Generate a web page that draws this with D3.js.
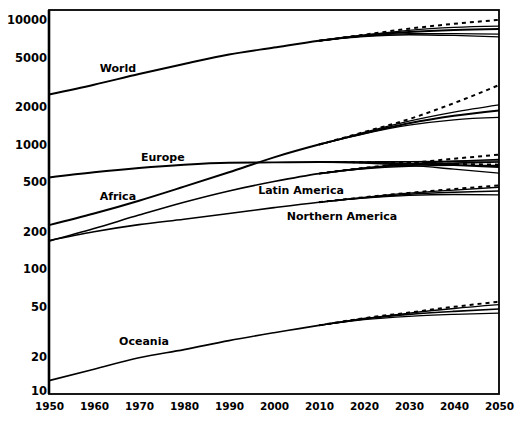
<!DOCTYPE html>
<html>
<head>
<meta charset="utf-8">
<script src="https://cdn.jsdelivr.net/npm/d3@7"></script>
<style>
  body { margin: 0; background: #fff; }
  svg { display: block; }
  text { font-family: "DejaVu Sans", sans-serif; font-weight: bold; fill: #000; }
</style>
</head>
<body>
<div id="chart"></div>
<script>
let years = [1950, 1960, 1970, 1980, 1990, 2000, 2010, 2020, 2030, 2040, 2050];

// medium estimates, millions
let world = [2520, 3020, 3680, 4430, 5280, 6000, 6800, 7500, 8000, 8300, 8450];
let africa = [226, 280, 355, 460, 600, 790, 1000, 1230, 1480, 1700, 1880];
let europe = [545, 600, 650, 690, 715, 720, 725, 720, 705, 685, 660];
let latinAmerica = [168, 212, 272, 345, 425, 505, 585, 645, 685, 710, 725];
let northernAmerica = [170, 200, 228, 252, 280, 312, 345, 375, 400, 415, 425];
let oceania = [12.8, 15.8, 19.5, 22.7, 26.8, 31, 35.5, 40, 43.5, 46, 48];

// projection variants
let projYears = [2010, 2020, 2030, 2040, 2050];
let worldConst = [6800, 7600, 8500, 9300, 10000];
let worldHigh = [6800, 7550, 8250, 8700, 8900];
let worldLow = [6800, 7400, 7750, 7750, 7700];
let worldLowest = [6800, 7350, 7600, 7500, 7300];
let africaConst = [1000, 1260, 1600, 2150, 3000];
let africaHigh = [1000, 1250, 1540, 1820, 2080];
let africaLow = [1000, 1220, 1430, 1580, 1650];
let europeConst = [725, 722, 712, 700, 690];
let europeHigh = [725, 728, 730, 735, 740];
let europeLow = [725, 712, 680, 635, 590];
let latinConst = [585, 650, 710, 770, 830];
let latinHigh = [585, 650, 700, 735, 760];
let latinLow = [585, 640, 670, 680, 680];
let namConst = [345, 378, 410, 440, 470];
let namHigh = [345, 378, 408, 432, 455];
let namLow = [345, 372, 392, 398, 395];
let oceConst = [35.5, 40.5, 45, 50, 55];
let oceHigh = [35.5, 40.3, 44.5, 48.5, 52];
let oceLow = [35.5, 39.5, 42, 43.5, 44.5];

let yTicks = [10, 20, 50, 100, 200, 500, 1000, 2000, 5000, 10000];
let xTicks = [1950, 1960, 1970, 1980, 1990, 2000, 2010, 2020, 2030, 2040, 2050];

// label anchors: [text, year, value]
let labels = [
  ["World", 1965.3, 4110],
  ["Europe", 1975.3, 795],
  ["Africa", 1965.3, 380],
  ["Latin America", 2006, 425],
  ["Northern America", 2015.1, 267],
  ["Oceania", 1971.1, 26.6]
];

let width = 520;
let height = 421;

let svg = d3.select("#chart").append("svg")
  .attr("width", width)
  .attr("height", height);

let x = d3.scaleLinear().domain([1950, 2050]).range([49, 499]);
let y = d3.scaleLog().domain([10, 12000]).range([394, 10]);

let mainSeries = [world, africa, europe, latinAmerica, northernAmerica, oceania];
let variants = [
  {v: worldConst, dash: true}, {v: worldHigh}, {v: worldLow}, {v: worldLowest},
  {v: africaConst, dash: true}, {v: africaHigh}, {v: africaLow},
  {v: europeConst, dash: true}, {v: europeHigh}, {v: europeLow},
  {v: latinConst, dash: true}, {v: latinHigh}, {v: latinLow},
  {v: namConst, dash: true}, {v: namHigh}, {v: namLow},
  {v: oceConst, dash: true}, {v: oceHigh}, {v: oceLow}
];

let line = d3.line()
  .x(d => x(d[0]))
  .y(d => y(d[1]))
  .curve(d3.curveMonotoneX);

// variants first
svg.append("g").selectAll("path")
  .data(variants)
  .enter()
  .append("path")
  .attr("d", d => line(projYears.map((yr, i) => [yr, d.v[i]])))
  .attr("fill", "none")
  .attr("stroke", "#000")
  .attr("stroke-width", d => d.dash ? 2 : 1.3)
  .attr("stroke-dasharray", d => d.dash ? "4,4" : null);

svg.append("g").selectAll("path")
  .data(mainSeries)
  .enter()
  .append("path")
  .attr("d", d => line(years.map((yr, i) => [yr, d[i]])))
  .attr("fill", "none")
  .attr("stroke", "#000")
  .attr("stroke-width", (d, i) => i >= 3 ? 1.6 : 2);

// frame
svg.append("rect")
  .attr("x", x(1950))
  .attr("y", y(12000))
  .attr("width", x(2050) - x(1950))
  .attr("height", y(10) - y(12000))
  .attr("fill", "none")
  .attr("stroke", "#000")
  .attr("stroke-width", 1.8);

svg.append("line")
  .attr("x1", x(1950)).attr("x2", x(1950))
  .attr("y1", y(12000)).attr("y2", y(10))
  .attr("stroke", "#000")
  .attr("stroke-width", 2.6);

let yAxis = svg.append("g")
  .attr("transform", "translate(" + x(1950) + ",0)")
  .call(d3.axisLeft(y).tickValues(yTicks).tickFormat(d3.format("d")).tickSize(0).tickPadding(2));
yAxis.select(".domain").remove();
yAxis.selectAll("text")
  .style("font-size", "11.5px")
  .style("font-family", "DejaVu Sans")
  .style("font-weight", "bold")
  .attr("dy", d => d === 10 ? "0.05em" : "0.32em");

let xAxis = svg.append("g")
  .attr("transform", "translate(0," + y(10) + ")")
  .call(d3.axisBottom(x).tickValues(xTicks).tickFormat(d3.format("d")).tickSize(0).tickPadding(9));
xAxis.select(".domain").remove();
xAxis.selectAll("text").style("font-size", "10.5px").style("font-family", "DejaVu Sans").style("font-weight", "bold");

svg.append("g").selectAll("text")
  .data(labels)
  .enter()
  .append("text")
  .attr("x", d => x(d[1]))
  .attr("y", d => y(d[2]))
  .attr("text-anchor", "middle")
  .attr("dominant-baseline", "central")
  .style("font-size", "11px")
  .text(d => d[0]);
</script>
</body>
</html>
